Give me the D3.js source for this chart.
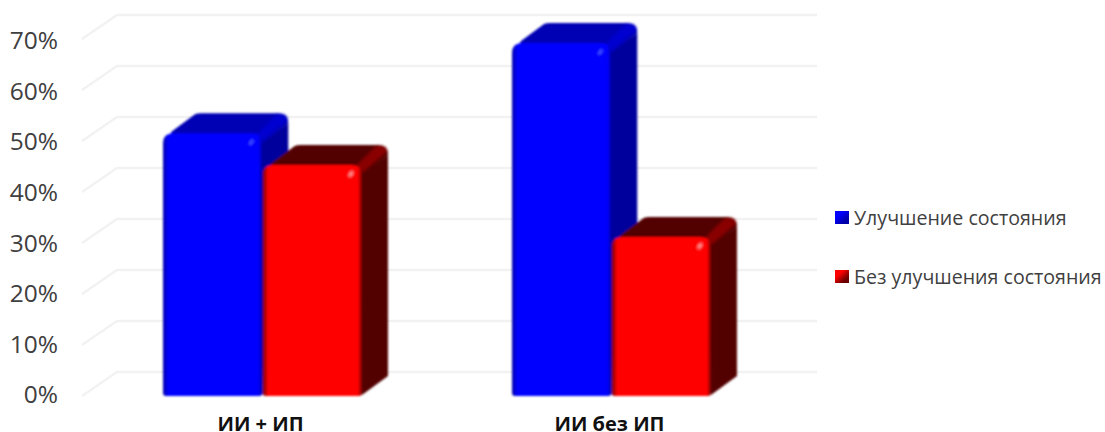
<!DOCTYPE html>
<html>
<head>
<meta charset="utf-8">
<script src="https://cdn.jsdelivr.net/npm/d3@7"></script>
<style>
    html, body { margin: 0; padding: 0; background: #fff; overflow: hidden; }
    svg { display: block; }
</style>
</head>
<body>
<div id="chart"></div>
<script>
'use strict';

var categories = ["ИИ + ИП", "ИИ без ИП"];
var seriesNames = ["Улучшение состояния", "Без улучшения состояния"];
var improved = [51.5, 69.2];
var notImproved = [45.3, 31.2];
var tickValues = [0, 10, 20, 30, 40, 50, 60, 70];

var seriesFront = ["#0000ff", "#ff0000"];
var seriesTop = ["#0000b4", "#520000"];
var seriesSide = ["#00009c", "#520000"];
var seriesEdge = ["#0000d0", "#8a0000"];
var seriesShade = ["#0000a8", "#6a0000"];
var seriesGlint = ["#4a5cff", "#ffb4b4"];

var width = 1105;
var height = 432;

// the walls sit further back than the bars' front faces
var wallDx = 35;
var wallDy = 24;
var barDx = 26;
var barDy = 20;
var corner = 10;

var svg = d3.select("#chart")
    .append("svg")
    .attr("width", width)
    .attr("height", height);

var defs = svg.append("defs");

defs.append("filter")
    .attr("id", "soft")
    .attr("x", "-5%").attr("y", "-5%")
    .attr("width", "110%").attr("height", "110%")
    .append("feGaussianBlur")
    .attr("stdDeviation", 0.8);

defs.append("filter")
    .attr("id", "glintBlur")
    .append("feGaussianBlur")
    .attr("stdDeviation", 1.2);

seriesFront.forEach(function (color, i) {
    var grad = defs.append("linearGradient").attr("id", "front" + i);
    var stops = [[0, seriesShade[i]], [0.055, color], [0.96, color], [1, seriesShade[i]]];
    stops.forEach(function (s) {
        grad.append("stop").attr("offset", s[0]).attr("stop-color", s[1]);
    });

    var key = defs.append("linearGradient")
        .attr("id", "key" + i)
        .attr("x1", 0).attr("y1", 0)
        .attr("x2", 1).attr("y2", 1);
    key.append("stop").attr("offset", 0.3).attr("stop-color", color);
    key.append("stop").attr("offset", 0.75).attr("stop-color", seriesShade[i]);
});

var y = d3.scaleLinear()
    .domain([0, 70])
    .range([396, 39]);

// tick labels are spaced a little tighter than the front plane
var yLabels = d3.scaleLinear()
    .domain([0, 70])
    .range([395, 41]);

var x0 = d3.scaleBand()
    .domain(categories)
    .range([88, 786])
    .paddingInner(0.43)
    .paddingOuter(0.215);

var x1 = d3.scaleBand()
    .domain(d3.range(seriesNames.length))
    .range([0, x0.bandwidth()])
    .paddingInner(0.005);

// back wall lines and their short runs along the side wall
svg.append("g")
    .selectAll("path")
    .data(tickValues)
    .enter()
    .append("path")
    .attr("d", function (d) {
        var yFront = y(d);
        return "M82," + yFront + "L" + (82 + wallDx) + "," + (yFront - wallDy) + "H817";
    })
    .style("fill", "none")
    .style("stroke", "#f2f2f2")
    .style("stroke-width", 2.4);

var yAxis = d3.axisLeft(yLabels)
    .tickValues(tickValues)
    .tickSize(0)
    .tickPadding(0)
    .tickFormat(function (d) { return d + "%"; });

var yAxisG = svg.append("g")
    .attr("transform", "translate(58,0)")
    .call(yAxis);
yAxisG.select(".domain").remove();
yAxisG.selectAll("text")
    .style("font-family", "'Open Sans'")
    .style("font-size", "24.5px")
    .style("fill", "#404040");

var xAxis = d3.axisBottom(x0)
    .tickSize(0)
    .tickPadding(0);

var xAxisG = svg.append("g")
    .attr("transform", "translate(-2,416.5)")
    .call(xAxis);
xAxisG.select(".domain").remove();
xAxisG.selectAll("text")
    .style("font-family", "'Open Sans'")
    .style("font-size", "20px")
    .style("font-weight", "bold")
    .style("fill", "#111");

var frontPath = function (bx, top, w, base) {
    return "M" + bx + "," + (base - 3) +
        "V" + (top + corner) +
        "Q" + bx + "," + top + " " + (bx + corner) + "," + top +
        "H" + (bx + w - corner) +
        "Q" + (bx + w) + "," + top + " " + (bx + w) + "," + (top + corner) +
        "V" + (base - 3) +
        "Q" + (bx + w) + "," + base + " " + (bx + w - 3) + "," + base +
        "H" + (bx + 3) +
        "Q" + bx + "," + base + " " + bx + "," + (base - 3) + "Z";
};

var topPath = function (bx, top, w) {
    var backY = top - barDy;
    return "M" + (bx + 2) + "," + (top + corner) +
        "L" + (bx + 9) + "," + (top - 2) +
        "L" + (bx + 32) + "," + (backY + 1) +
        "Q" + (bx + 34) + "," + backY + " " + (bx + 38) + "," + backY +
        "H" + (bx + w + barDx - corner) +
        "Q" + (bx + w + barDx) + "," + backY + " " + (bx + w + barDx) + "," + (backY + corner) +
        "L" + (bx + w) + "," + (top + corner) + "Z";
};

var sidePath = function (bx, top, w, base) {
    return "M" + (bx + w - 2) + "," + (top + corner) +
        "L" + (bx + w + barDx) + "," + (top - barDy + corner) +
        "V" + (base - barDy) +
        "L" + (bx + w) + "," + (base - 1) + "Z";
};

// lighter strip where the top and side faces meet
var edgePath = function (bx, top, w) {
    return "M" + (bx + w - 6) + "," + (top + 1) +
        "L" + (bx + w + barDx - 12) + "," + (top - barDy + 1) +
        "H" + (bx + w + barDx - 7) +
        "Q" + (bx + w + barDx - 1) + "," + (top - barDy + 1) + " " + (bx + w + barDx - 1) + "," + (top - barDy + 7) +
        "L" + (bx + w) + "," + (top + 8) + "Z";
};

var barData = [];
categories.forEach(function (c, i) {
    barData.push({cat: c, s: 0, value: improved[i]});
    barData.push({cat: c, s: 1, value: notImproved[i]});
});

var bars = svg.append("g")
    .attr("filter", "url(#soft)")
    .selectAll("g")
    .data(barData)
    .enter()
    .append("g");

var getX = function (d) {
    return x0(d.cat) + x1(d.s);
};

bars.append("path")
    .attr("d", function (d) { return sidePath(getX(d), y(d.value), x1.bandwidth(), y(0)); })
    .style("fill", function (d) { return seriesSide[d.s]; });

bars.append("path")
    .attr("d", function (d) { return topPath(getX(d), y(d.value), x1.bandwidth()); })
    .style("fill", function (d) { return seriesTop[d.s]; });

bars.append("path")
    .attr("d", function (d) { return edgePath(getX(d), y(d.value), x1.bandwidth()); })
    .attr("filter", "url(#glintBlur)")
    .style("fill", function (d) { return seriesEdge[d.s]; });

bars.append("path")
    .attr("d", function (d) { return frontPath(getX(d), y(d.value), x1.bandwidth(), y(0)); })
    .style("fill", function (d) { return "url(#front" + d.s + ")"; });

bars.append("ellipse")
    .attr("cx", function (d) { return getX(d) + x1.bandwidth() - 11; })
    .attr("cy", function (d) { return y(d.value) + 9; })
    .attr("rx", 1.8)
    .attr("ry", 3.5)
    .attr("transform", function (d) {
        return "rotate(35," + (getX(d) + x1.bandwidth() - 11) + "," + (y(d.value) + 9) + ")";
    })
    .attr("filter", "url(#glintBlur)")
    .style("fill", function (d) { return seriesGlint[d.s]; });

// legend
var legendY = d3.scalePoint()
    .domain(seriesNames)
    .range([217.5, 276.5]);

var legend = svg.append("g")
    .selectAll("g")
    .data(seriesNames)
    .enter()
    .append("g")
    .attr("transform", function (d) { return "translate(835," + legendY(d) + ")"; });

legend.append("rect")
    .attr("x", 0)
    .attr("y", -6.5)
    .attr("width", 14)
    .attr("height", 13)
    .style("fill", function (d, i) { return "url(#key" + i + ")"; });

legend.append("text")
    .attr("x", 19)
    .attr("y", 7)
    .text(function (d) { return d; })
    .style("font-family", "'Open Sans'")
    .style("font-size", "19.6px")
    .style("fill", "#404040");
</script>
</body>
</html>
